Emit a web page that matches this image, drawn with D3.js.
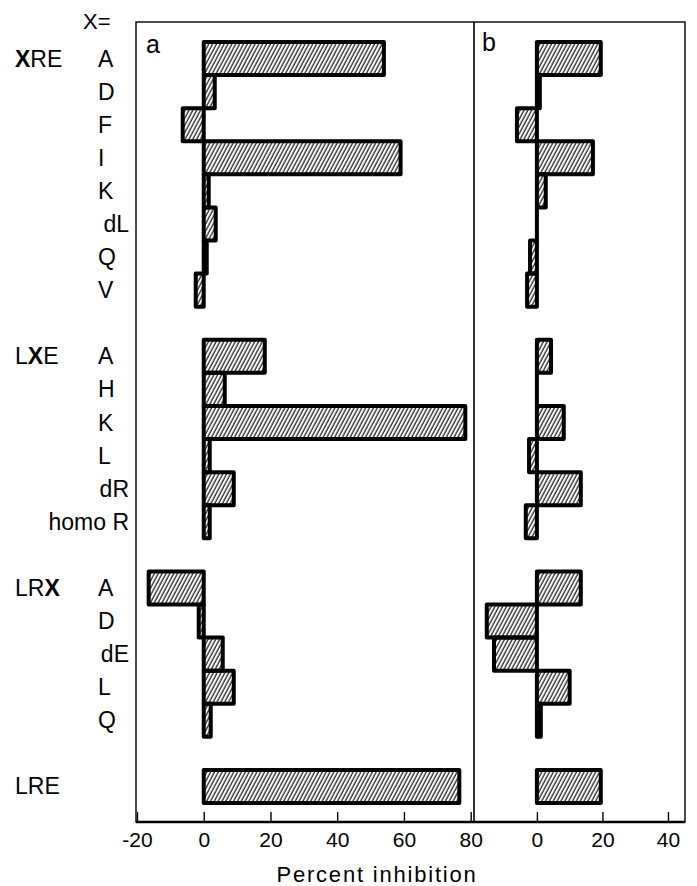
<!DOCTYPE html>
<html>
<head>
<meta charset="utf-8">
<script src="https://cdn.jsdelivr.net/npm/d3@7/dist/d3.min.js"></script>
<style>
  body { margin: 0; background: #fff; }
  svg text { font-family: "Liberation Sans", Arial, sans-serif; fill: #000; }
</style>
</head>
<body>
<script>
// groups of peptides, X = substituted residue
var groups = ["XRE", "LXE", "LRX", "LRE"];
var groupRows = [
  ["A", "D", "F", "I", "K", "dL", "Q", "V"],
  ["A", "H", "K", "L", "dR", "homo R"],
  ["A", "D", "dE", "L", "Q"],
  [""]
];
// percent inhibition, panel a
var valuesA = [
  [54, 3.3, -6.3, 59, 1.5, 3.6, 0.9, -2.4],
  [18.3, 6.3, 78.4, 1.8, 9, 1.8],
  [-16.5, -1.5, 5.7, 9, 2.1],
  [76.6]
];
// percent inhibition, panel b
var valuesB = [
  [19.5, 0.9, -6.1, 17.1, 2.7, 0, -2.1, -3],
  [4.3, 0, 8.2, -2.4, 13.4, -3.4],
  [13.4, -15.3, -13.1, 10, 1.2],
  [19.5]
];
var ticksA = [-20, 0, 20, 40, 60, 80];
var ticksB = [0, 20, 40];

var width = 697, height = 886;
var frame = {left: 136, top: 22, right: 685, bottom: 822, mid: 474};

var svg = d3.select("body").append("svg")
  .attr("width", width)
  .attr("height", height);

// hatch pattern
var defs = svg.append("defs");
defs.append("pattern")
    .attr("id", "hatch")
    .attr("patternUnits", "userSpaceOnUse")
    .attr("width", 3.4)
    .attr("height", 10)
    .attr("patternTransform", "rotate(28)")
  .append("line")
    .attr("x1", 1).attr("y1", 0)
    .attr("x2", 1).attr("y2", 10)
    .attr("stroke", "#000")
    .attr("stroke-width", 1.1);

// rows, with an empty row between groups
var rows = [];
groups.forEach(function(g, gi) {
  if (gi > 0) rows.push({key: "gap" + gi, gap: true});
  groupRows[gi].forEach(function(r, ri) {
    rows.push({key: g + "-" + r, group: g, label: r, first: ri == 0,
               a: valuesA[gi][ri], b: valuesB[gi][ri]});
  });
});
var data = rows.filter(function(d) { return !d.gap; });

var y = d3.scaleBand()
  .domain(rows.map(function(d) { return d.key; }))
  .range([42, 803])
  .padding(0);

var xA = d3.scaleLinear().domain([-20, 81]).range([137, frame.mid]);
var xB = d3.scaleLinear().domain([-19.2, 45.2]).range([frame.mid, frame.right]);

// frame
svg.append("rect")
  .attr("x", frame.left).attr("y", frame.top)
  .attr("width", frame.right - frame.left)
  .attr("height", frame.bottom - frame.top)
  .attr("fill", "none")
  .attr("stroke", "#000")
  .attr("stroke-width", 1.4);
svg.append("line")
  .attr("x1", frame.mid).attr("x2", frame.mid)
  .attr("y1", frame.top).attr("y2", frame.bottom)
  .attr("stroke", "#000").attr("stroke-width", 1.6);
svg.append("line")
  .attr("x1", frame.left).attr("x2", frame.right)
  .attr("y1", frame.bottom).attr("y2", frame.bottom)
  .attr("stroke", "#000").attr("stroke-width", 2.4);

// bars as closed paths so that a zero value still leaves its line at 0
function drawBars(x, field) {
  svg.append("g").selectAll("path")
    .data(data)
    .enter()
    .append("path")
      .attr("d", function(d) {
        var x0 = Math.min(x(0), x(d[field]));
        var w = Math.abs(x(d[field]) - x(0));
        var p = d3.path();
        p.rect(x0, y(d.key), w, y.bandwidth());
        return p.toString();
      })
      .attr("fill", "url(#hatch)")
      .attr("stroke", "#000")
      .attr("stroke-width", 4)
      .attr("stroke-linejoin", "round");
}
drawBars(xA, "a");
drawBars(xB, "b");

// axes
function drawAxis(x, ticks) {
  var g = svg.append("g")
    .attr("transform", "translate(0," + frame.bottom + ")")
    .call(d3.axisBottom(x)
      .tickValues(ticks)
      .tickFormat(function(d) { return String(d); })
      .tickSizeInner(-10)
      .tickSizeOuter(0)
      .tickPadding(10));
  g.select(".domain").remove();
  g.selectAll(".tick line").attr("stroke", "#000").attr("stroke-width", 1.4);
  g.selectAll(".tick text")
    .attr("font-size", 21)
    .attr("font-family", "Liberation Sans, Arial, sans-serif")
    .attr("fill", "#000");
}
drawAxis(xA, ticksA);
drawAxis(xB, ticksB);

svg.append("text")
  .attr("x", 377).attr("y", 882)
  .attr("text-anchor", "middle")
  .attr("font-size", 22)
  .attr("letter-spacing", 1.8)
  .text("Percent inhibition");

// panel letters
svg.append("text").attr("x", 146).attr("y", 53).attr("font-size", 25).text("a");
svg.append("text").attr("x", 482).attr("y", 51).attr("font-size", 25).text("b");

svg.append("text").attr("x", 83).attr("y", 29).attr("font-size", 22).text("X=");

// row labels
svg.append("g").selectAll("text")
  .data(data.filter(function(d) { return d.label != ""; }))
  .enter()
  .append("text")
    .attr("x", function(d) { return d.label.length == 1 ? 98 : 129; })
    .attr("y", function(d) { return y(d.key) + y.bandwidth() / 2 + 8; })
    .attr("text-anchor", function(d) { return d.label.length == 1 ? "start" : "end"; })
    .attr("font-size", 23)
    .text(function(d) { return d.label; });

// group labels, substituted position in bold
var gl = svg.append("g").selectAll("text")
  .data(data.filter(function(d) { return d.first; }))
  .enter()
  .append("text")
    .attr("x", 15)
    .attr("y", function(d) { return y(d.key) + y.bandwidth() / 2 + 8; })
    .attr("font-size", 23);
gl.each(function(d) {
  var t = d3.select(this);
  d.group.split("").forEach(function(c) {
    t.append("tspan")
      .attr("font-weight", c == "X" ? "bold" : "normal")
      .text(c);
  });
});
</script>
</body>
</html>
